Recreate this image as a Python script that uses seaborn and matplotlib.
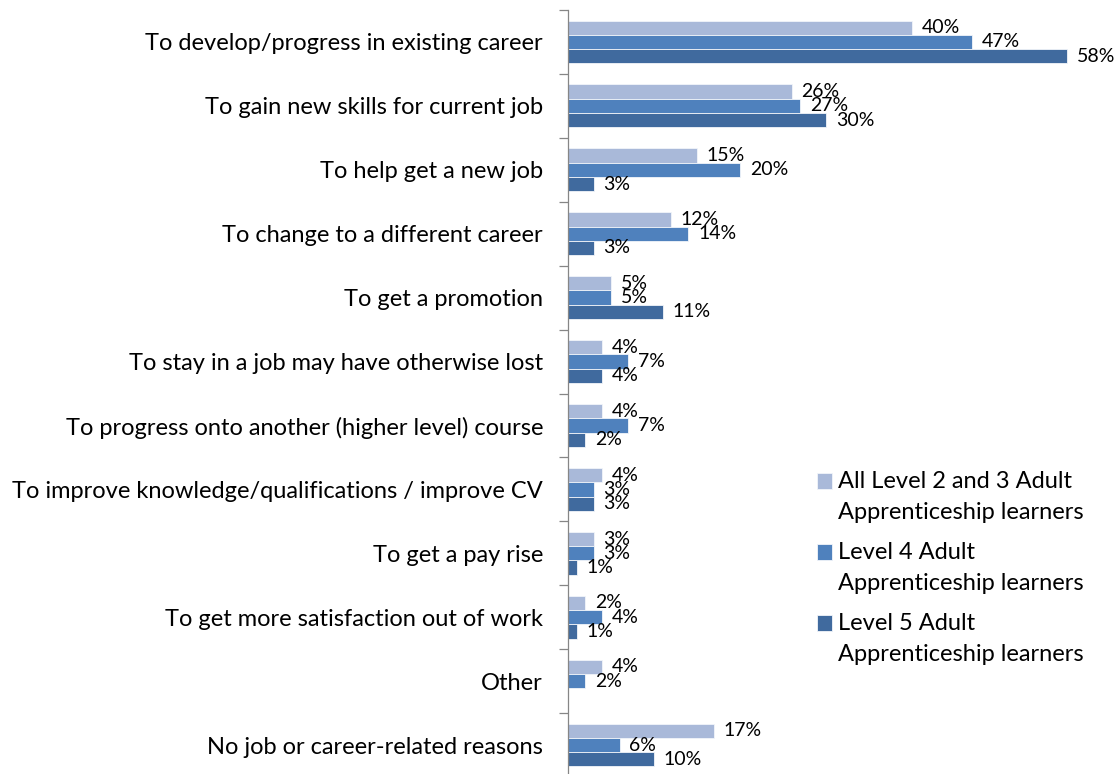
import numpy as np
import pandas as pd
import matplotlib
matplotlib.use("Agg")
import matplotlib.pyplot as plt
from matplotlib.patches import Rectangle
from matplotlib.legend_handler import HandlerPatch
import seaborn as sns

categories = [
    "To develop/progress in existing career",
    "To gain new skills for current job",
    "To help get a new job",
    "To change to a different career",
    "To get a promotion",
    "To stay in a job may have otherwise lost",
    "To progress onto another (higher level) course",
    "To improve knowledge/qualifications / improve CV",
    "To get a pay rise",
    "To get more satisfaction out of work",
    "Other",
    "No job or career-related reasons",
]
series_names = [
    "All Level 2 and 3 Adult\nApprenticeship learners",
    "Level 4 Adult\nApprenticeship learners",
    "Level 5 Adult\nApprenticeship learners",
]
level23 = [40, 26, 15, 12, 5, 4, 4, 4, 3, 2, 4, 17]
level4 = [47, 27, 20, 14, 5, 7, 7, 3, 3, 4, 2, 6]
level5 = [58, 30, 3, 3, 11, 4, 2, 3, 1, 1, np.nan, 10]
colors = ["#A9B9D9", "#4F81BD", "#406A9E"]

rows = []
for name, vals in zip(series_names, [level23, level4, level5]):
    for cat, v in zip(categories, vals):
        rows.append({"reason": cat, "group": name, "pct": v})
df = pd.DataFrame(rows).dropna()

sns.set_style("white")
plt.rcParams["font.family"] = ["Lato", "DejaVu Sans"]
plt.rcParams["text.color"] = "black"

fig = plt.figure(figsize=(11.17, 7.74), dpi=100)
ax = fig.add_axes([568 / 1117, -3 / 774, 1 - 568 / 1117, 767 / 774])

sns.barplot(data=df, y="reason", x="pct", hue="group", order=categories,
            hue_order=series_names, palette=colors, saturation=1, width=0.67,
            orient="h", ax=ax, edgecolor="#F2F5FA", linewidth=0.6,
            legend=True, errorbar=None)

for cont in ax.containers:
    ax.bar_label(cont, labels=[f"{v:.0f}%" for v in cont.datavalues],
                 padding=7, fontsize=14, color="black")

ax.set_xlim(0, 549 / 8.6)
ax.set_ylim(len(categories) - 0.5, -0.5)
ax.set_xlabel("")
ax.set_ylabel("")
ax.set_xticks([])
for side in ["top", "right", "bottom"]:
    ax.spines[side].set_visible(False)
ax.spines["left"].set_color("#868686")
ax.spines["left"].set_linewidth(0.9)

ax.set_yticks(range(len(categories)))
ax.set_yticklabels(categories, fontsize=17, color="black")
ax.tick_params(axis="y", which="major", length=0, pad=18)
ax.set_yticks(np.arange(-0.5, len(categories)), minor=True)
ax.tick_params(axis="y", which="minor", length=6.5, width=0.9,
               color="#868686", left=True)


def square_first_line(legend, orig_handle, xdescent, ydescent, width, height, fontsize):
    # keep the colour square level with the first line of a two-line label
    return Rectangle((-xdescent, -ydescent + 0.66 * fontsize), width, height)


handles, labels = ax.get_legend_handles_labels()
leg = ax.legend(handles, labels, loc="upper left",
                bbox_to_anchor=(800 / 1117, 1 - 454 / 774), bbox_transform=fig.transFigure,
                frameon=False, fontsize=17, handlelength=0.66, handleheight=0.66,
                handletextpad=0.27, labelspacing=0.8, borderpad=0.2,
                handler_map={h: HandlerPatch(patch_func=square_first_line) for h in handles})
for t in leg.get_texts():
    t.set_linespacing(1.6)
    t.set_color("black")

fig.savefig("out.png", dpi=100)
